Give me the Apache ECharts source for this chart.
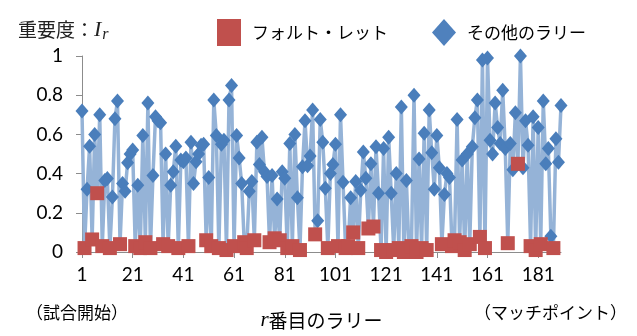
<!DOCTYPE html>
<html>
<head>
<meta charset="utf-8">
<script src="https://cdn.jsdelivr.net/npm/echarts@6/dist/echarts.min.js"></script>
<style>
  html, body { margin: 0; background: #fff; }
  #chart { width: 637px; height: 336px; }
</style>
</head>
<body>
<div id="chart"></div>
<script>
// importance I_r of every rally, r = 1..190
const importance = [
  0.72, 0.02, 0.32, 0.54, 0.064, 0.60, 0.30, 0.70, 0.03, 0.365,
  0.375, 0.02, 0.28, 0.68, 0.77, 0.04, 0.35, 0.31, 0.455, 0.50,
  0.52, 0.03, 0.34, 0.02, 0.595, 0.05, 0.76, 0.02, 0.39, 0.69,
  0.67, 0.66, 0.04, 0.50, 0.03, 0.34, 0.41, 0.54, 0.02, 0.47,
  0.46, 0.48, 0.03, 0.56, 0.35, 0.46, 0.50, 0.545, 0.55, 0.06,
  0.38, 0.03, 0.775, 0.595, 0.02, 0.55, 0.57, 0.01, 0.775, 0.85,
  0.03, 0.595, 0.48, 0.35, 0.05, 0.02, 0.31, 0.36, 0.06, 0.56,
  0.447, 0.585, 0.41, 0.385, 0.05, 0.39, 0.07, 0.27, 0.06, 0.41,
  0.376, 0.02, 0.553, 0.03, 0.60, 0.277, 0.01, 0.435, 0.67, 0.44,
  0.49, 0.725, 0.09, 0.16, 0.676, 0.56, 0.325, 0.02, 0.40, 0.447,
  0.55, 0.03, 0.70, 0.356, 0.02, 0.03, 0.277, 0.10, 0.36, 0.02,
  0.315, 0.51, 0.376, 0.12, 0.45, 0.13, 0.537, 0.30, 0.01, 0.528,
  0.00, 0.586, 0.30, 0.01, 0.40, 0.02, 0.74, 0.00, 0.365, 0.01,
  0.03, 0.80, 0.00, 0.474, 0.02, 0.606, 0.01, 0.725, 0.507, 0.32,
  0.595, 0.43, 0.04, 0.294, 0.40, 0.38, 0.03, 0.06, 0.676, 0.05,
  0.47, 0.01, 0.50, 0.04, 0.537, 0.685, 0.775, 0.077, 0.98, 0.02,
  0.99, 0.57, 0.50, 0.76, 0.635, 0.553, 0.825, 0.528, 0.045, 0.553,
  0.42, 0.71, 0.45, 1.00, 0.43, 0.67, 0.545, 0.03, 0.69, 0.01,
  0.635, 0.04, 0.77, 0.45, 0.528, 0.08, 0.02, 0.578, 0.458, 0.747
];

// rallies that ended with a fault / let
const faultRallies = [
  2, 5, 7, 9, 12, 16, 22, 24, 26, 28, 33, 35, 39, 43, 50, 52, 55, 58, 61,
  65, 66, 69, 75, 77, 79, 82, 84, 87, 93, 98, 102, 105, 106, 108, 110,
  114, 116, 119, 121, 124, 126, 128, 130, 131, 133, 135, 137, 143, 147,
  148, 150, 152, 154, 158, 160, 169, 173, 178, 180, 182, 187
];

const rallies = importance.map((_, i) => String(i + 1));
const faultSet = new Set(faultRallies);

const otherData = importance.map((v, i) =>
  faultSet.has(i + 1) ? { value: v, symbol: 'none' } : v
);
const faultData = importance.map((v, i) => (faultSet.has(i + 1) ? v : '-'));

const jp = 'Noto Sans CJK JP';
const num = 'Lato';

const chart = echarts.init(document.getElementById('chart'));
chart.setOption({
  animation: false,
  title: {
    left: 13,
    top: 12,
    text: '{a|重要度：}{b|I}{c|r}',
    textStyle: {
      fontWeight: 'normal',
      rich: {
        a: { fontSize: 19, fontFamily: jp, fontWeight: 'normal', color: '#222' },
        b: { fontSize: 22, fontFamily: 'Liberation Serif', fontStyle: 'italic', fontWeight: 'normal', color: '#222' },
        c: { fontSize: 16, fontFamily: 'Liberation Serif', fontStyle: 'italic', fontWeight: 'normal', color: '#222', padding: [10, 0, 0, 1] }
      }
    }
  },
  legend: {
    left: 212,
    top: 14,
    itemWidth: 24,
    itemHeight: 27,
    itemGap: 44,
    textStyle: { fontSize: 17, fontFamily: jp, color: '#000', padding: [0, 0, 0, 6] },
    data: [
      { name: 'フォルト・レット', icon: 'rect', itemStyle: { color: '#C0504D', opacity: 1 } },
      { name: 'その他のラリー', icon: 'diamond', itemStyle: { color: '#4F81BD' } }
    ]
  },
  grid: { left: 82, right: 76, top: 56, bottom: 77 },
  xAxis: {
    type: 'category',
    data: rallies,
    boundaryGap: false,
    name: '{i|r}{t|番目のラリー}',
    nameLocation: 'middle',
    nameGap: 58,
    nameTextStyle: {
      rich: {
        i: { fontSize: 21, fontFamily: 'Liberation Serif', fontStyle: 'italic', color: '#000' },
        t: { fontSize: 19, fontFamily: jp, color: '#000' }
      }
    },
    axisLine: { lineStyle: { color: '#8c8c8c' } },
    axisTick: { interval: 19, length: 6, lineStyle: { color: '#8c8c8c' } },
    axisLabel: { interval: 19, fontSize: 19, fontFamily: num, color: '#000', margin: 13 }
  },
  yAxis: {
    type: 'value',
    min: 0,
    max: 1,
    interval: 0.2,
    axisLine: { show: true, lineStyle: { color: '#8c8c8c' } },
    axisTick: { show: true, length: 6, lineStyle: { color: '#8c8c8c' } },
    splitLine: { show: false },
    axisLabel: { fontSize: 19, fontFamily: num, color: '#000', margin: 19 }
  },
  graphic: [
    { type: 'text', left: 26, top: 304, style: { text: '（試合開始）', fontSize: 17, fontFamily: jp, fill: '#000' } },
    { type: 'text', right: 10, top: 304, style: { text: '（マッチポイント）', fontSize: 17, fontFamily: jp, fill: '#000' } }
  ],
  series: [
    {
      name: 'その他のラリー',
      type: 'line',
      data: otherData,
      clip: false,
      z: 2,
      showAllSymbol: true,
      symbol: 'diamond',
      symbolSize: [13, 15],
      lineStyle: { color: '#95B3D7', width: 3.5 },
      itemStyle: { color: '#4A7EBB' }
    },
    {
      name: 'フォルト・レット',
      type: 'scatter',
      data: faultData,
      clip: false,
      z: 3,
      symbol: 'rect',
      symbolSize: 14,
      itemStyle: { color: '#C0504D', opacity: 1 }
    }
  ]
});
</script>
</body>
</html>
